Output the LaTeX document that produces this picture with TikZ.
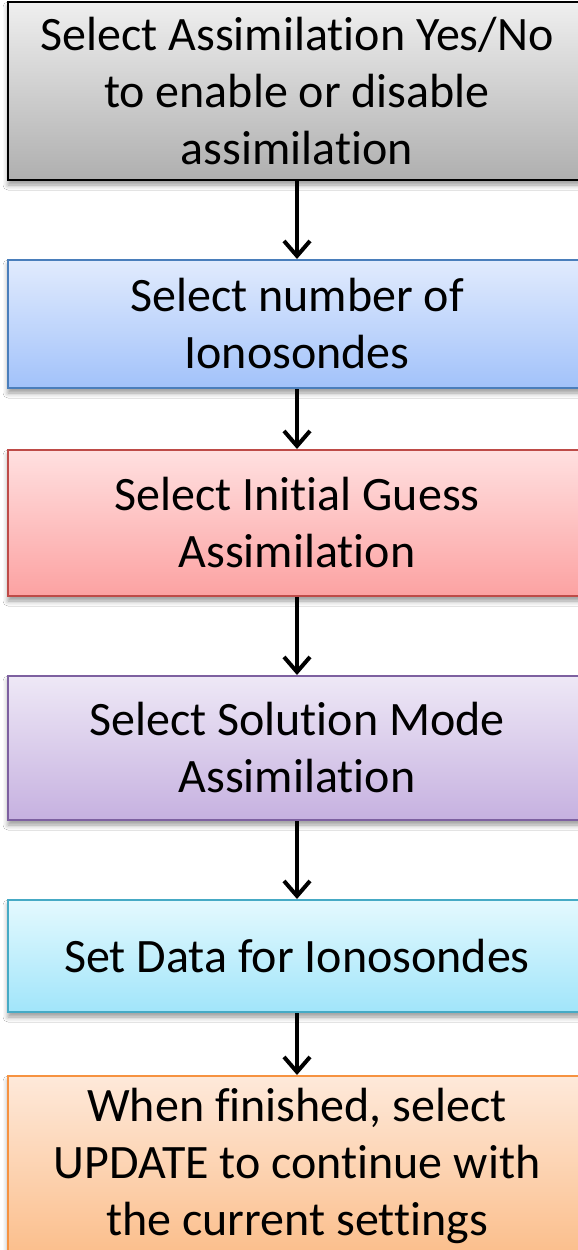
\documentclass[tikz,border=0pt]{standalone}
\usepackage{fontspec}
\setmainfont[RawFeature={-liga;-clig;-calt}]{Carlito}
\usetikzlibrary{arrows.meta,shadows.blur}

% colours of the steps
\definecolor{grayTop}{HTML}{EFEFEF}\definecolor{grayBot}{HTML}{AFAFAF}
\definecolor{blueTop}{HTML}{E1EBFD}\definecolor{blueBot}{HTML}{A2C2FA}\definecolor{blueLine}{HTML}{4A7EBB}
\definecolor{redTop}{HTML}{FFE0E0}\definecolor{redBot}{HTML}{FCA2A2}\definecolor{redLine}{HTML}{BE4B48}
\definecolor{purpTop}{HTML}{EEE8F6}\definecolor{purpBot}{HTML}{C6B1E0}\definecolor{purpLine}{HTML}{7D60A0}
\definecolor{cyanTop}{HTML}{E4F9FE}\definecolor{cyanBot}{HTML}{A1E5FA}\definecolor{cyanLine}{HTML}{46AAC5}
\definecolor{orngTop}{HTML}{FEE9DA}\definecolor{orngBot}{HTML}{FBBE8B}\definecolor{orngLine}{HTML}{F69240}

\tikzset{
  stepbox/.style={draw, line width=2pt, minimum width=578pt, inner sep=0pt, align=center,
    font=\fontsize{48}{57}\selectfont,
    blur shadow={shadow xshift=0pt, shadow yshift=-5pt, shadow blur radius=5pt}},
  flow/.style={line width=4pt, -{Straight Barb[length=15pt,width=26pt,line width=4pt]}}
}

\begin{document}
\begin{tikzpicture}[x=1pt,y=-1pt]
  \useasboundingbox (0,0) rectangle (578,1250);
  \fill[white] (0,0) rectangle (578,1250);

  \node[stepbox, line width=2.8pt, minimum height=178pt, top color=grayTop, bottom color=grayBot]
    (assim) at (297,91) {Select Assimilation Yes/No\\to enable or disable\\assimilation};
  \node[stepbox, minimum height=128pt, draw=blueLine, top color=blueTop, bottom color=blueBot]
    (numsondes) at (297,324) {Select number of\\Ionosondes};
  \node[stepbox, minimum height=146pt, draw=redLine, top color=redTop, bottom color=redBot]
    (guess) at (297,523) {Select Initial Guess\\Assimilation};
  \node[stepbox, minimum height=144pt, draw=purpLine, top color=purpTop, bottom color=purpBot]
    (mode) at (297,748) {Select Solution Mode\\Assimilation};
  \node[stepbox, minimum height=112pt, draw=cyanLine, top color=cyanTop, bottom color=cyanBot]
    (setdata) at (297,956) {Set Data for Ionosondes};
  \node[stepbox, minimum height=180pt, draw=orngLine, top color=orngTop, bottom color=orngBot]
    (update) at (297,1166) {When finished, select\\UPDATE to continue with\\the current settings};

  \draw[flow] (assim) -- (numsondes);
  \draw[flow] (numsondes) -- (guess);
  \draw[flow] (guess) -- (mode);
  \draw[flow] (mode) -- (setdata);
  \draw[flow] (setdata) -- (update);
\end{tikzpicture}
\end{document}
